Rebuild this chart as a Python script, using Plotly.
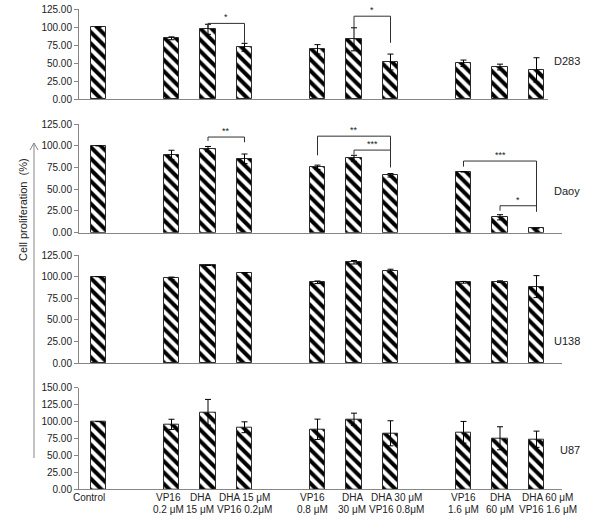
import plotly.graph_objects as go

# slot positions along the category axis (gaps between treatment groups)
SLOTS = [0, 2, 3, 4, 6, 7, 8, 10, 11, 12]
LABELS = [
    "Control", "VP16<br>0.2 μM", "DHA<br>15 μM", "DHA 15 μM<br>VP16 0.2μM",
    "VP16<br>0.8 μM", "DHA<br>30 μM", "DHA 30 μM<br>VP16 0.8μM",
    "VP16<br>1.6 μM", "DHA<br>60 μM", "DHA 60 μM<br>VP16 1.6 μM",
]
# horizontal nudge of each category label, in pixels
LABEL_SHIFT = [-9, -3, -8, 0, -5, -2, 6, 0, 0, 11]

CELL_LINES = ["D283", "Daoy", "U138", "U87"]

D283 = [100, 84.3, 96.8, 71.8, 69.0, 82.9, 51.4, 49.6, 44.4, 40.3]
D283_ERR = [0, 2, 7, 5.5, 6.5, 16, 11, 4.5, 4, 17]

DAOY = [100, 89.3, 96.2, 85.0, 75.2, 85.5, 66.0, 70.0, 17.7, 5.0]
DAOY_ERR = [0, 5.5, 3, 5.5, 2.5, 3.5, 2, 0, 3, 0.5]

U138 = [100, 98.0, 113.0, 104.6, 93.5, 116.6, 106.6, 93.5, 94.2, 88.5]
U138_ERR = [0, 1.5, 0, 0, 1.5, 2, 2, 1, 1, 12.7]

U87 = [100, 95.9, 113.7, 91.6, 88.6, 103.4, 82.7, 84.2, 75.3, 73.9]
U87_ERR = [0, 7.5, 19, 8, 15, 9, 18.5, 16, 17, 12]

VALUES = [D283, DAOY, U138, U87]
ERRORS = [D283_ERR, DAOY_ERR, U138_ERR, U87_ERR]
Y_MAX = [125, 125, 125, 150]

# significance brackets: (panel, slot from, slot to, top, left leg end, right leg end, label)
BRACKETS = [
    (0, 3, 4, 105, 98.5, 78, "*"),
    (0, 7, 8, 115, 98.5, 78, "*"),
    (1, 3, 4, 110, 105.5, 104, "**"),
    (1, 6, 8, 111, 89, 75, "**"),
    (1, 7, 8, 95, 90, 95, "***"),
    (1, 10, 12, 82.4, 76, 24, "***"),
    (1, 11, 12, 31, 25.3, 31, "*"),
]

# pixel geometry of each panel (y of zero line, y of top of range), 522 px high
PANEL_PX = [(99, 9), (232.7, 124), (363.3, 255), (489.3, 387.7)]
X_END_PX = [548, 562, 562, 562]
H, W = 522, 600
X0_PX, SLOT0_PX, SLOT_W = 79, 98.5, 36.5

GRAY = "#868686"
FONT = "Liberation Sans, Arial, sans-serif"

fig = go.Figure()
layout = {}
for i, (name, vals, errs) in enumerate(zip(CELL_LINES, VALUES, ERRORS)):
    n = "" if i == 0 else str(i + 1)
    fig.add_trace(
        go.Bar(
            x=SLOTS,
            y=vals,
            width=0.42,
            xaxis="x" + n,
            yaxis="y" + n,
            marker=dict(
                color="white",
                line=dict(color="#2a2a2a", width=1),
                pattern=dict(shape="\\", fgcolor="black", bgcolor="white",
                             fgopacity=1, size=8, solidity=0.5),
            ),
            error_y=dict(type="data", array=errs, color="black",
                         thickness=1, width=3),
            showlegend=False,
            name=name,
        )
    )
    y0, y1 = PANEL_PX[i]
    xr_left = (X0_PX - SLOT0_PX) / SLOT_W
    xr_right = (X_END_PX[i] - SLOT0_PX) / SLOT_W
    layout["xaxis" + n] = dict(
        domain=[X0_PX / W, X_END_PX[i] / W],
        range=[xr_left, xr_right],
        anchor="y" + n,
        automargin=False,
        showline=True, linecolor=GRAY, linewidth=1,
        showgrid=False, zeroline=False, ticks="",
        showticklabels=False,
    )
    layout["yaxis" + n] = dict(
        domain=[1 - y0 / H, 1 - y1 / H],
        range=[0, Y_MAX[i]],
        anchor="x" + n,
        automargin=False,
        showline=True, linecolor=GRAY, linewidth=1,
        ticks="outside", ticklen=4, tickcolor=GRAY,
        dtick=25, tickformat=".2f",
        showgrid=False, zeroline=False,
        tickfont=dict(size=10, color="#222"),
    )

shapes = []
annotations = []

# category labels under the bottom panel, one annotation per text line
for slot, label, shift in zip(SLOTS, LABELS, LABEL_SHIFT):
    for k, line in enumerate(label.split("<br>")):
        annotations.append(dict(
            x=slot, xref="x4", y=1 - (498 + 11 * k) / H, yref="paper",
            text=line, showarrow=False, xshift=shift,
            xanchor="center", yanchor="middle",
            font=dict(size=10, color="#222"),
        ))

for panel, a, b, top, left_end, right_end, label in BRACKETS:
    n = "" if panel == 0 else str(panel + 1)
    shapes.append(dict(
        type="path", xref="x" + n, yref="y" + n,
        path=f"M {a},{left_end} L {a},{top} L {b},{top} L {b},{right_end}",
        line=dict(color="#303030", width=1),
    ))
    annotations.append(dict(
        x=(a + b) / 2, y=top, xref="x" + n, yref="y" + n,
        text=label, showarrow=False, yanchor="bottom", yshift=-1,
        font=dict(size=9, color="#222"),
    ))

label_y = [53, 191, 341, 458]
for name, yp in zip(CELL_LINES, label_y):
    annotations.append(dict(
        x=582 / W, y=1 - yp / H, xref="paper", yref="paper",
        text=name, showarrow=False, font=dict(size=11, color="#222"),
    ))

annotations.append(dict(
    x=15 / W, y=1 - 210 / H, xref="paper", yref="paper",
    text="Cell proliferation\u00a0\u00a0(%)", textangle=-90, showarrow=False,
    font=dict(size=11, color="#222"),
))

# vertical arrow beside the y title
ax_x, ax_top, ax_bot = 34 / W, 1 - 143 / H, 1 - 458 / H
shapes.append(dict(type="line", xref="paper", yref="paper",
                   x0=ax_x, x1=ax_x, y0=ax_bot, y1=ax_top,
                   line=dict(color=GRAY, width=1)))
shapes.append(dict(type="path", xref="paper", yref="paper",
                   path=f"M {30 / W},{1 - 150 / H} L {ax_x},{ax_top} L {38 / W},{1 - 150 / H}",
                   line=dict(color=GRAY, width=1)))

fig.update_layout(
    **layout,
    width=W, height=H,
    margin=dict(l=0, r=0, t=0, b=0),
    paper_bgcolor="white", plot_bgcolor="white",
    font=dict(family=FONT, color="#222"),
    shapes=shapes,
    annotations=annotations,
    bargap=0,
)

# page body has a default 8px margin; drop it so the figure fills the window
fig.write_html(
    "out.html",
    config={"displayModeBar": False},
    post_script="document.body.style.margin = '0';",
)
